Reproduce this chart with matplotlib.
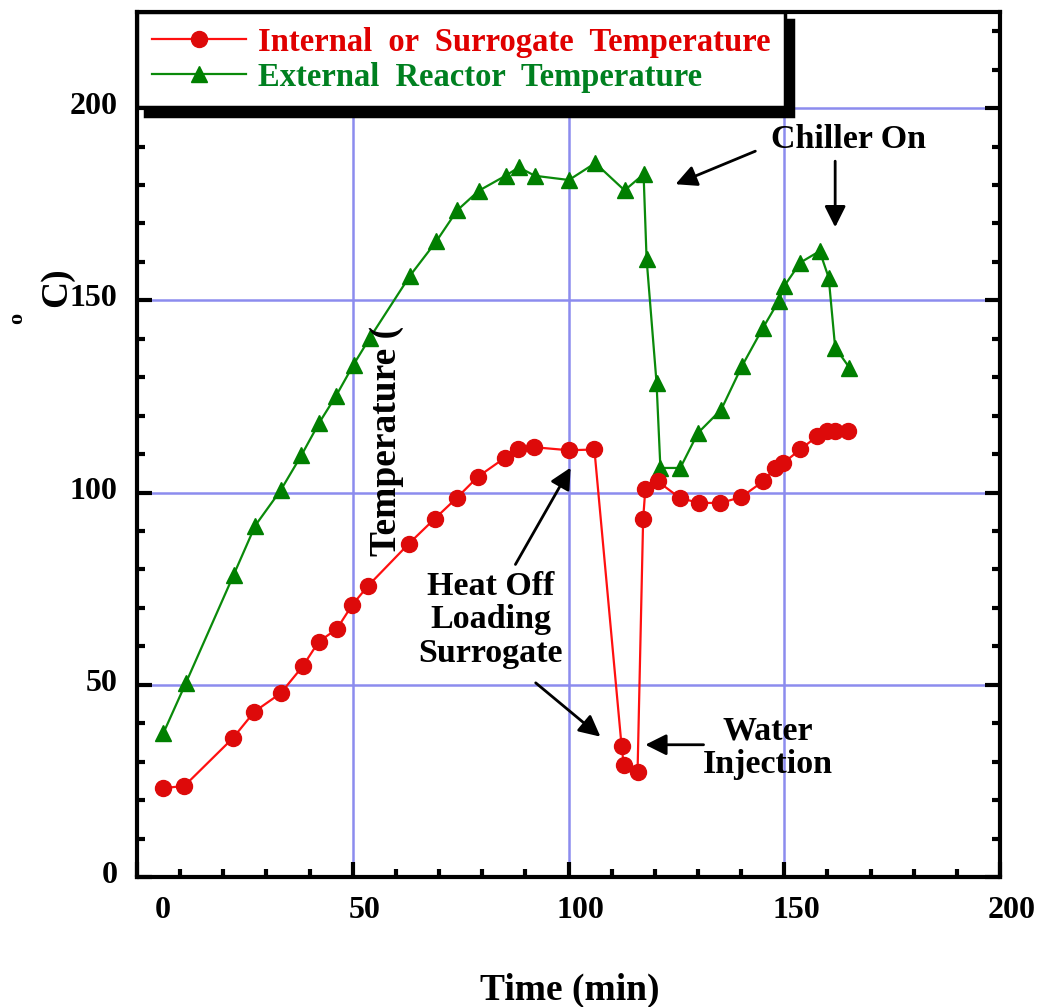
import numpy as np
import matplotlib
matplotlib.use('Agg')
from matplotlib import pyplot as plt
from matplotlib.ticker import MultipleLocator
import matplotlib.transforms as mtransforms

# internal / surrogate temperature (min, deg C)
red_t = [6.1, 11.0, 22.2, 27.2, 33.3, 38.4, 42.1, 46.3, 49.9, 53.6, 63.0, 69.0,
         74.1, 79.0, 85.2, 88.3, 92.0, 100.1, 106.0, 112.3, 112.8, 116.0, 117.3,
         117.8, 120.7, 125.8, 130.2, 135.2, 140.0, 145.1, 147.9, 149.8, 153.7,
         157.7, 159.9, 161.8, 164.7]
red_T = [23.1, 23.7, 36.1, 43.0, 47.8, 54.8, 61.2, 64.5, 70.8, 75.8, 86.7, 93.2,
         98.6, 104.1, 109.0, 111.2, 111.8, 111.0, 111.2, 34.1, 29.2, 27.2, 93.2,
         100.8, 102.9, 98.6, 97.3, 97.3, 98.8, 102.9, 106.4, 107.7, 111.2,
         114.7, 116.0, 116.0, 116.0]

# external reactor temperature
green_t = [6.1, 11.3, 22.4, 27.4, 33.3, 38.1, 42.2, 46.1, 50.2, 54.0, 63.2, 69.4,
           74.2, 79.2, 85.4, 88.5, 92.2, 100.1, 106.2, 113.0, 117.4, 118.1, 120.4,
           121.3, 125.9, 130.0, 135.4, 140.2, 145.1, 148.7, 150.0, 153.7, 158.2,
           160.3, 161.8, 165.1]
green_T = [37.4, 50.4, 78.6, 91.4, 100.6, 109.7, 118.1, 125.1, 133.3, 140.3, 156.3,
           165.4, 173.4, 178.5, 182.4, 184.6, 182.4, 181.3, 185.7, 178.6, 182.8,
           160.7, 128.6, 106.4, 106.4, 115.5, 121.6, 132.9, 142.9, 149.8, 153.7,
           159.8, 162.8, 155.9, 137.7, 132.5]

labels = ['Internal  or  Surrogate  Temperature', 'External  Reactor  Temperature']

plt.rcParams['font.family'] = 'Liberation Serif'
plt.rcParams['font.weight'] = 'bold'
fs_tick = 23
fs_leg = 23.5
fs_note = 24.5
fs_title = 27

fig = plt.figure(figsize=(10.39, 10.07), dpi=100)
ax = fig.add_axes([137/1039, 1 - 877/1007, 863/1039, 865/1007])

ax.plot(red_t, red_T, '-o', color='#ff1010', mfc='#dd0a0a', mec='#dd0a0a',
        lw=1.6, ms=11.5, label=labels[0], zorder=4)
ax.plot(green_t, green_T, '-^', color='#0a8a0a', mfc='#007f00', mec='#007f00',
        lw=1.6, ms=11.5, label=labels[1], zorder=3)

ax.set_xlim(0, 200)
ax.set_ylim(0, 225)
ax.xaxis.set_major_locator(MultipleLocator(50))
ax.xaxis.set_minor_locator(MultipleLocator(10))
ax.yaxis.set_major_locator(MultipleLocator(50))
ax.yaxis.set_minor_locator(MultipleLocator(10))
ax.grid(True, which='major', color='#8c8cee', lw=1.8, zorder=0)
ax.set_axisbelow(True)

for s in ax.spines.values():
    s.set_linewidth(3)
ax.tick_params(which='both', direction='in', bottom=True, left=True, right=True,
               top=False, width=3, labelsize=fs_tick)
ax.tick_params(which='major', length=11)
ax.tick_params(which='minor', length=6)
ax.tick_params(axis='x', pad=14)
ax.tick_params(axis='y', pad=14)

# x tick labels sit a bit right of their ticks in the original
for lab in ax.get_xticklabels():
    dx = 26 if lab.get_text() == '0' else 12
    lab.set_transform(lab.get_transform() +
                      mtransforms.ScaledTranslation(dx / 100, 0, fig.dpi_scale_trans))
for lab in ax.get_yticklabels():
    lab.set_transform(lab.get_transform() +
                      mtransforms.ScaledTranslation(0, 5 / 100, fig.dpi_scale_trans))

leg = ax.legend(loc='upper left', bbox_to_anchor=(0, 1), borderaxespad=0,
                fontsize=fs_leg, handlelength=2.9, handletextpad=0.35,
                labelspacing=0.12, borderpad=0.45, fancybox=False,
                framealpha=1, edgecolor='black',
                shadow={'ox': 6, 'oy': -6, 'facecolor': 'black', 'edgecolor': 'black', 'alpha': 1})
leg.get_frame().set_linewidth(2.5)
leg.set_zorder(10)
for txt, c in zip(leg.get_texts(), ['#e00000', '#008020']):
    txt.set_color(c)

# annotations
arr = dict(arrowstyle='-|>', color='black', lw=2, mutation_scale=32, shrinkA=0, shrinkB=0)
ax.text(165, 191.9, 'Chiller On', ha='center', va='center', fontsize=fs_note)
ax.annotate('', xy=(124.8, 180.2), xytext=(143.3, 188.8), arrowprops=arr)
ax.annotate('', xy=(161.8, 169.0), xytext=(161.8, 186.2), arrowprops=arr)

ax.text(81.9, 66.9, 'Heat Off\nLoading\nSurrogate', ha='center', va='center',
        fontsize=fs_note, linespacing=1.1)
ax.annotate('', xy=(100.5, 106.5), xytext=(87.7, 81.3), arrowprops=arr)
ax.annotate('', xy=(107.4, 36.5), xytext=(92.4, 50.5), arrowprops=arr)

ax.text(146.1, 33.6, 'Water\nInjection', ha='center', va='center',
        fontsize=fs_note, linespacing=1.1)
ax.annotate('', xy=(117.8, 34.4), xytext=(131.3, 34.4), arrowprops=arr)

# broken-up axis titles as in the original
fig.text(387/1039, 1 - 441/1007, 'Temperature (', rotation=90, ha='center',
         va='center', fontsize=fs_title)
fig.text(57/1039, 1 - 287/1007, 'C)', rotation=90, ha='center', va='center',
         fontsize=fs_title)
fig.text(17/1039, 1 - 318/1007, 'o', rotation=90, ha='center', va='center',
         fontsize=16)
fig.text(570/1039, 1 - 990/1007, 'Time (min)', ha='center', va='center',
         fontsize=fs_title)

fig.savefig('out.png', dpi=100)
